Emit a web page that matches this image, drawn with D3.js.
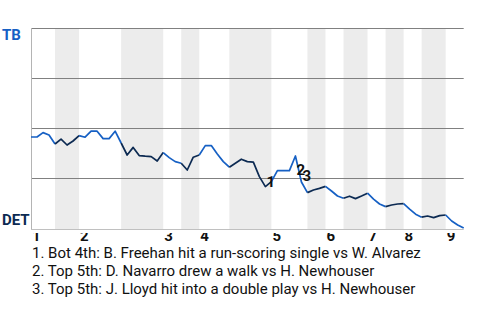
<!DOCTYPE html>
<html><head><meta charset="utf-8">
<script src="https://cdn.jsdelivr.net/npm/d3@7"></script>
<style>
html,body{margin:0;padding:0;background:#fff;}
svg{display:block;font-family:Roboto,"Liberation Sans",Arial,sans-serif;}
</style></head>
<body>
<svg id="chart" width="480" height="320"></svg>
<script>
// TB win probability (%) after each plate appearance
const tbWinProb = [45.5,45.5,47.7,46.5,42.0,44.4,41.5,43.5,46.2,45.4,
  48.4,48.4,44.7,44.7,48.4,42.5,36.5,40.3,36.2,35.9,
  35.7,33.5,37.7,35.2,33.2,32.4,29.0,35.4,36.5,41.2,
  41.2,37.0,33.2,30.4,32.4,34.4,33.2,32.9,25.7,20.7,
  23.2,28.7,28.7,28.7,36.0,23.0,17.7,19.0,19.8,20.8,
  18.5,16.0,14.9,15.9,14.7,16.0,17.4,14.4,12.0,10.7,
  11.5,12.0,12.2,9.4,6.9,5.4,6.0,5.2,6.2,6.5,
  3.5,1.5,0.0];
// plate-appearance index where each half inning starts (last = end of game)
const halfInningStarts = [0,4,8,15,22,25,28,33,40,46,49,52,56,59,62,65,69,72];
const inningLabels = ["1","2","3","4","5","6","7","8","9"];
const gridValues = [25,50,75,100];
const teams = {top:"TB", bottom:"DET"};
const eventIndex = [39,44,45];
const eventLabelDy = [0,19,-1];
const eventTexts = [
  "1. Bot 4th: B. Freehan hit a run-scoring single vs W. Alvarez",
  "2. Top 5th: D. Navarro drew a walk vs H. Newhouser",
  "3. Top 5th: J. Lloyd hit into a double play vs H. Newhouser"
];

const topColor = "#1660c4", botColor = "#0c2a52";
const svg = d3.select("#chart");
const x = d3.scaleLinear().domain([0, tbWinProb.length-1]).range([31, 463.7]);
const y = d3.scaleLinear().domain([0,100]).range([228, 28]);

svg.append("defs").append("clipPath").attr("id","lblclip")
  .append("rect").attr("x",0).attr("y",y(0)+5).attr("width",480).attr("height",20);

// bottom-half bands
const halves = d3.range(halfInningStarts.length-1).map(k=>({
  k, s: halfInningStarts[k], e: halfInningStarts[k+1], bottom: k%2===1
}));
svg.append("g").selectAll("rect").data(halves.filter(h=>h.bottom)).join("rect")
  .attr("x", d=>x(d.s)).attr("width", d=>x(d.e)-x(d.s))
  .attr("y", y(100)).attr("height", y(0)-y(100)+1.5)
  .attr("fill", "#ececec");

// grid
svg.append("g").selectAll("line").data(gridValues).join("line")
  .attr("x1", x(0)).attr("x2", x(tbWinProb.length-1))
  .attr("y1", d=>Math.round(y(d))+0.5).attr("y2", d=>Math.round(y(d))+0.5)
  .attr("stroke", "#808080").attr("stroke-width", 1);
// axes lines
svg.append("line").attr("x1", x(0)+0.5).attr("x2", x(0)+0.5)
  .attr("y1", y(100)).attr("y2", y(0)+2).attr("stroke","#b4b4b4");
svg.append("line").attr("x1", x(0)).attr("x2", x(tbWinProb.length-1))
  .attr("y1", y(0)+1.5).attr("y2", y(0)+1.5).attr("stroke","#c0c0c0");

// line by half inning
const line = d3.line().x(i=>x(i)).y(i=>y(tbWinProb[i]));
svg.append("g").selectAll("path").data(halves).join("path")
  .attr("d", d=>line(d3.range(d.s, d.e+1)))
  .attr("fill","none").attr("stroke", d=>d.bottom?botColor:topColor)
  .attr("stroke-width",1.7).attr("stroke-linejoin","round");

// team labels
svg.append("text").attr("x",2).attr("y",y(100)+11.5).text(teams.top)
  .attr("font-size",15).attr("font-weight","bold").attr("fill",topColor);
svg.append("text").attr("x",2).attr("y",y(0)-3).text(teams.bottom)
  .attr("font-size",15).attr("font-weight","bold").attr("fill",botColor);

// inning labels
const inningStarts = halfInningStarts.filter((d,k)=>k%2===0).slice(0,inningLabels.length);
svg.append("g").attr("clip-path","url(#lblclip)").selectAll("text").data(inningLabels).join("text")
  .attr("x",(d,k)=>x(inningStarts[k])+1).attr("y",y(0)+13)
  .attr("font-size",15).attr("font-weight","bold").attr("fill","#111").text(d=>d);

// event markers
svg.append("g").selectAll("text").data(eventIndex).join("text")
  .attr("x",d=>x(d)+1).attr("y",(d,k)=>y(tbWinProb[d])+eventLabelDy[k])
  .attr("font-size",15).attr("font-weight","bold").attr("fill","#111")
  .text((d,k)=>k+1);

// event descriptions
svg.append("g").selectAll("text").data(eventTexts).join("text")
  .attr("x",32).attr("y",(d,k)=>257.5+k*18)
  .attr("font-size",15).attr("fill","#111").text(d=>d);
</script>
</body></html>
